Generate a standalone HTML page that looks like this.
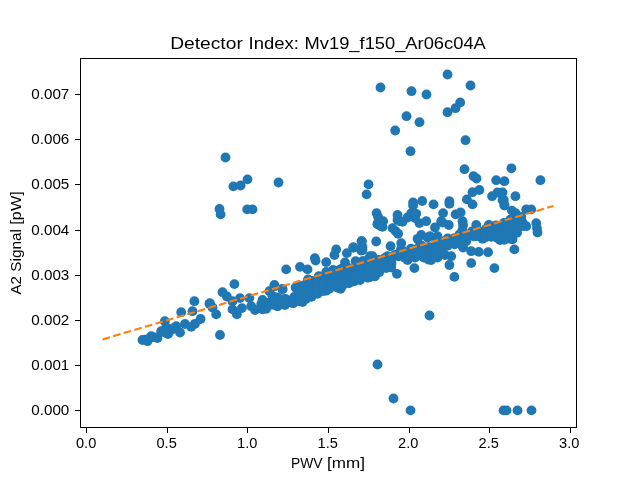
<!DOCTYPE html>
<html><head><meta charset="utf-8"><title>Detector Index</title>
<style>html,body{margin:0;padding:0;background:#fff;overflow:hidden}svg{display:block;will-change:transform}text{filter:grayscale(1);font-family:"Liberation Sans",sans-serif;fill:#000}</style></head>
<body>
<svg width="640" height="480" viewBox="0 0 640 480">
<rect width="640" height="480" fill="#ffffff"/>
<g fill="#1f77b4">
<circle cx="225.5" cy="157.5" r="4.9"/>
<circle cx="380.5" cy="87.5" r="4.9"/>
<circle cx="395.2" cy="130.5" r="4.9"/>
<circle cx="447.5" cy="74.5" r="4.9"/>
<circle cx="470.5" cy="85.5" r="4.9"/>
<circle cx="411.5" cy="91.2" r="4.9"/>
<circle cx="426.5" cy="94.5" r="4.9"/>
<circle cx="460.2" cy="102.5" r="4.9"/>
<circle cx="455.5" cy="108.2" r="4.9"/>
<circle cx="447.5" cy="112.2" r="4.9"/>
<circle cx="406.5" cy="116.2" r="4.9"/>
<circle cx="419.5" cy="122.2" r="4.9"/>
<circle cx="465.5" cy="140.2" r="4.9"/>
<circle cx="410.5" cy="151.2" r="4.9"/>
<circle cx="464.5" cy="169.2" r="4.9"/>
<circle cx="511.4" cy="168.3" r="4.9"/>
<circle cx="473.5" cy="176.2" r="4.9"/>
<circle cx="476.5" cy="178.5" r="4.9"/>
<circle cx="496.2" cy="180.2" r="4.9"/>
<circle cx="504.4" cy="181.2" r="4.9"/>
<circle cx="540.4" cy="180.2" r="4.9"/>
<circle cx="233.4" cy="186.4" r="4.9"/>
<circle cx="240.6" cy="185.5" r="4.9"/>
<circle cx="247.5" cy="179.4" r="4.9"/>
<circle cx="278.5" cy="182.5" r="4.9"/>
<circle cx="247.2" cy="209.4" r="4.9"/>
<circle cx="252.5" cy="209.4" r="4.9"/>
<circle cx="219.5" cy="209.0" r="4.9"/>
<circle cx="220.6" cy="214.4" r="4.9"/>
<circle cx="429.5" cy="315.5" r="4.9"/>
<circle cx="377.5" cy="364.5" r="4.9"/>
<circle cx="393.5" cy="398.5" r="4.9"/>
<circle cx="410.5" cy="410.4" r="4.9"/>
<circle cx="503.5" cy="410.4" r="4.9"/>
<circle cx="506.5" cy="410.4" r="4.9"/>
<circle cx="517.5" cy="410.4" r="4.9"/>
<circle cx="531.5" cy="410.4" r="4.9"/>
<circle cx="220.0" cy="335.0" r="4.9"/>
<circle cx="194.4" cy="301.2" r="4.9"/>
<circle cx="181.2" cy="312.2" r="4.9"/>
<circle cx="192.5" cy="311.2" r="4.9"/>
<circle cx="209.4" cy="303.8" r="4.9"/>
<circle cx="200.6" cy="319.0" r="4.9"/>
<circle cx="164.8" cy="321.2" r="4.9"/>
<circle cx="195.0" cy="323.8" r="4.9"/>
<circle cx="191.2" cy="326.9" r="4.9"/>
<circle cx="185.0" cy="324.0" r="4.9"/>
<circle cx="176.2" cy="326.2" r="4.9"/>
<circle cx="180.0" cy="332.5" r="4.9"/>
<circle cx="171.2" cy="330.0" r="4.9"/>
<circle cx="165.0" cy="332.5" r="4.9"/>
<circle cx="161.2" cy="331.2" r="4.9"/>
<circle cx="157.5" cy="338.1" r="4.9"/>
<circle cx="151.2" cy="336.2" r="4.9"/>
<circle cx="147.5" cy="341.2" r="4.9"/>
<circle cx="142.5" cy="340.0" r="4.9"/>
<circle cx="166.2" cy="327.5" r="4.9"/>
<circle cx="212.5" cy="307.5" r="4.9"/>
<circle cx="395.8" cy="231.4" r="4.9"/>
<circle cx="145.0" cy="339.6" r="4.9"/>
<circle cx="149.6" cy="338.2" r="4.9"/>
<circle cx="168.0" cy="334.0" r="4.9"/>
<circle cx="155.0" cy="337.3" r="4.9"/>
<circle cx="173.0" cy="328.5" r="4.9"/>
<circle cx="286.2" cy="269.4" r="4.9"/>
<circle cx="234.4" cy="284.1" r="4.9"/>
<circle cx="222.5" cy="292.2" r="4.9"/>
<circle cx="226.9" cy="296.5" r="4.9"/>
<circle cx="274.4" cy="286.2" r="4.9"/>
<circle cx="282.5" cy="289.4" r="4.9"/>
<circle cx="269.4" cy="291.2" r="4.9"/>
<circle cx="240.0" cy="298.1" r="4.9"/>
<circle cx="249.4" cy="298.1" r="4.9"/>
<circle cx="232.5" cy="301.2" r="4.9"/>
<circle cx="210.0" cy="303.1" r="4.9"/>
<circle cx="216.2" cy="314.4" r="4.9"/>
<circle cx="232.5" cy="309.4" r="4.9"/>
<circle cx="241.9" cy="308.1" r="4.9"/>
<circle cx="236.9" cy="314.4" r="4.9"/>
<circle cx="251.2" cy="306.2" r="4.9"/>
<circle cx="255.0" cy="310.0" r="4.9"/>
<circle cx="262.5" cy="300.0" r="4.9"/>
<circle cx="262.5" cy="309.4" r="4.9"/>
<circle cx="266.2" cy="308.8" r="4.9"/>
<circle cx="270.0" cy="302.5" r="4.9"/>
<circle cx="277.5" cy="297.5" r="4.9"/>
<circle cx="277.5" cy="306.2" r="4.9"/>
<circle cx="285.0" cy="298.8" r="4.9"/>
<circle cx="285.0" cy="305.0" r="4.9"/>
<circle cx="288.8" cy="301.2" r="4.9"/>
<circle cx="272.5" cy="296.2" r="4.9"/>
<circle cx="280.0" cy="302.5" r="4.9"/>
<circle cx="300.0" cy="266.9" r="4.9"/>
<circle cx="307.5" cy="269.4" r="4.9"/>
<circle cx="314.8" cy="258.1" r="4.9"/>
<circle cx="315.6" cy="260.6" r="4.9"/>
<circle cx="326.2" cy="262.2" r="4.9"/>
<circle cx="336.2" cy="249.4" r="4.9"/>
<circle cx="334.4" cy="255.0" r="4.9"/>
<circle cx="333.1" cy="270.0" r="4.9"/>
<circle cx="326.2" cy="271.9" r="4.9"/>
<circle cx="345.0" cy="262.5" r="4.9"/>
<circle cx="346.9" cy="253.1" r="4.9"/>
<circle cx="353.8" cy="247.5" r="4.9"/>
<circle cx="361.9" cy="241.2" r="4.9"/>
<circle cx="362.5" cy="250.0" r="4.9"/>
<circle cx="355.6" cy="261.2" r="4.9"/>
<circle cx="363.8" cy="261.2" r="4.9"/>
<circle cx="370.0" cy="256.2" r="4.9"/>
<circle cx="341.2" cy="268.8" r="4.9"/>
<circle cx="318.8" cy="276.9" r="4.9"/>
<circle cx="308.1" cy="280.0" r="4.9"/>
<circle cx="296.2" cy="288.1" r="4.9"/>
<circle cx="274.4" cy="285.0" r="4.9"/>
<circle cx="282.5" cy="288.8" r="4.9"/>
<circle cx="295.6" cy="287.5" r="4.9"/>
<circle cx="308.1" cy="279.4" r="4.9"/>
<circle cx="318.8" cy="276.2" r="4.9"/>
<circle cx="368.5" cy="184.4" r="4.9"/>
<circle cx="366.6" cy="194.4" r="4.9"/>
<circle cx="376.6" cy="213.1" r="4.9"/>
<circle cx="378.1" cy="216.9" r="4.9"/>
<circle cx="383.1" cy="221.2" r="4.9"/>
<circle cx="377.5" cy="224.4" r="4.9"/>
<circle cx="381.2" cy="226.2" r="4.9"/>
<circle cx="392.5" cy="228.1" r="4.9"/>
<circle cx="397.5" cy="215.0" r="4.9"/>
<circle cx="397.5" cy="220.0" r="4.9"/>
<circle cx="402.5" cy="221.9" r="4.9"/>
<circle cx="407.5" cy="217.5" r="4.9"/>
<circle cx="411.2" cy="213.1" r="4.9"/>
<circle cx="416.2" cy="213.8" r="4.9"/>
<circle cx="413.1" cy="202.5" r="4.9"/>
<circle cx="413.1" cy="205.6" r="4.9"/>
<circle cx="422.2" cy="201.0" r="4.9"/>
<circle cx="433.5" cy="204.4" r="4.9"/>
<circle cx="419.4" cy="223.1" r="4.9"/>
<circle cx="426.2" cy="221.2" r="4.9"/>
<circle cx="415.0" cy="218.1" r="4.9"/>
<circle cx="472.5" cy="192.2" r="4.9"/>
<circle cx="479.4" cy="190.0" r="4.9"/>
<circle cx="466.9" cy="199.4" r="4.9"/>
<circle cx="472.5" cy="204.4" r="4.9"/>
<circle cx="449.4" cy="201.2" r="4.9"/>
<circle cx="449.4" cy="203.8" r="4.9"/>
<circle cx="443.1" cy="213.1" r="4.9"/>
<circle cx="455.6" cy="214.4" r="4.9"/>
<circle cx="460.6" cy="212.5" r="4.9"/>
<circle cx="497.5" cy="192.5" r="4.9"/>
<circle cx="502.5" cy="192.5" r="4.9"/>
<circle cx="492.1" cy="196.2" r="4.9"/>
<circle cx="502.5" cy="200.0" r="4.9"/>
<circle cx="504.4" cy="205.0" r="4.9"/>
<circle cx="462.5" cy="221.2" r="4.9"/>
<circle cx="463.1" cy="225.0" r="4.9"/>
<circle cx="441.2" cy="221.2" r="4.9"/>
<circle cx="448.8" cy="225.0" r="4.9"/>
<circle cx="476.2" cy="225.0" r="4.9"/>
<circle cx="488.8" cy="225.0" r="4.9"/>
<circle cx="515.4" cy="196.2" r="4.9"/>
<circle cx="503.8" cy="200.0" r="4.9"/>
<circle cx="504.4" cy="205.6" r="4.9"/>
<circle cx="511.9" cy="210.6" r="4.9"/>
<circle cx="515.6" cy="213.1" r="4.9"/>
<circle cx="526.2" cy="209.4" r="4.9"/>
<circle cx="531.2" cy="209.4" r="4.9"/>
<circle cx="536.2" cy="223.1" r="4.9"/>
<circle cx="536.9" cy="228.1" r="4.9"/>
<circle cx="537.5" cy="232.5" r="4.9"/>
<circle cx="516.2" cy="220.0" r="4.9"/>
<circle cx="522.5" cy="222.5" r="4.9"/>
<circle cx="526.2" cy="226.2" r="4.9"/>
<circle cx="506.2" cy="225.6" r="4.9"/>
<circle cx="512.5" cy="225.0" r="4.9"/>
<circle cx="518.8" cy="226.2" r="4.9"/>
<circle cx="377.5" cy="223.8" r="4.9"/>
<circle cx="382.5" cy="226.9" r="4.9"/>
<circle cx="398.1" cy="233.8" r="4.9"/>
<circle cx="400.0" cy="221.2" r="4.9"/>
<circle cx="361.5" cy="241.2" r="4.9"/>
<circle cx="362.5" cy="246.9" r="4.9"/>
<circle cx="361.2" cy="250.6" r="4.9"/>
<circle cx="353.1" cy="247.5" r="4.9"/>
<circle cx="376.2" cy="241.5" r="4.9"/>
<circle cx="390.6" cy="246.2" r="4.9"/>
<circle cx="401.2" cy="243.1" r="4.9"/>
<circle cx="401.2" cy="248.8" r="4.9"/>
<circle cx="372.5" cy="256.2" r="4.9"/>
<circle cx="421.2" cy="235.0" r="4.9"/>
<circle cx="417.5" cy="238.8" r="4.9"/>
<circle cx="427.5" cy="237.5" r="4.9"/>
<circle cx="412.5" cy="250.0" r="4.9"/>
<circle cx="420.0" cy="245.0" r="4.9"/>
<circle cx="427.5" cy="247.5" r="4.9"/>
<circle cx="387.5" cy="256.2" r="4.9"/>
<circle cx="395.0" cy="255.0" r="4.9"/>
<circle cx="405.0" cy="255.0" r="4.9"/>
<circle cx="415.0" cy="257.5" r="4.9"/>
<circle cx="423.8" cy="257.5" r="4.9"/>
<circle cx="414.4" cy="268.1" r="4.9"/>
<circle cx="396.9" cy="273.8" r="4.9"/>
<circle cx="391.2" cy="267.5" r="4.9"/>
<circle cx="385.0" cy="262.5" r="4.9"/>
<circle cx="377.5" cy="270.0" r="4.9"/>
<circle cx="375.0" cy="276.2" r="4.9"/>
<circle cx="362.5" cy="270.0" r="4.9"/>
<circle cx="356.2" cy="262.5" r="4.9"/>
<circle cx="362.5" cy="261.2" r="4.9"/>
<circle cx="355.0" cy="272.5" r="4.9"/>
<circle cx="366.2" cy="276.2" r="4.9"/>
<circle cx="407.5" cy="260.0" r="4.9"/>
<circle cx="449.4" cy="265.0" r="4.9"/>
<circle cx="454.4" cy="276.9" r="4.9"/>
<circle cx="471.2" cy="263.1" r="4.9"/>
<circle cx="494.4" cy="268.1" r="4.9"/>
<circle cx="488.1" cy="252.2" r="4.9"/>
<circle cx="478.8" cy="251.9" r="4.9"/>
<circle cx="471.2" cy="251.2" r="4.9"/>
<circle cx="463.1" cy="247.5" r="4.9"/>
<circle cx="451.2" cy="256.2" r="4.9"/>
<circle cx="445.0" cy="255.0" r="4.9"/>
<circle cx="437.5" cy="257.5" r="4.9"/>
<circle cx="431.2" cy="260.0" r="4.9"/>
<circle cx="500.0" cy="240.0" r="4.9"/>
<circle cx="506.2" cy="237.5" r="4.9"/>
<circle cx="492.5" cy="236.2" r="4.9"/>
<circle cx="482.5" cy="238.8" r="4.9"/>
<circle cx="476.2" cy="236.2" r="4.9"/>
<circle cx="466.2" cy="241.2" r="4.9"/>
<circle cx="458.8" cy="241.2" r="4.9"/>
<circle cx="450.0" cy="243.8" r="4.9"/>
<circle cx="441.2" cy="246.2" r="4.9"/>
<circle cx="433.8" cy="248.8" r="4.9"/>
<circle cx="437.5" cy="236.2" r="4.9"/>
<circle cx="435.0" cy="227.5" r="4.9"/>
<circle cx="442.5" cy="222.5" r="4.9"/>
<circle cx="462.5" cy="230.0" r="4.9"/>
<circle cx="500.0" cy="227.5" r="4.9"/>
<circle cx="507.5" cy="228.8" r="4.9"/>
<circle cx="485.0" cy="232.5" r="4.9"/>
<circle cx="497.5" cy="233.8" r="4.9"/>
<circle cx="505.0" cy="232.5" r="4.9"/>
<circle cx="430.0" cy="236.2" r="4.9"/>
<circle cx="514.4" cy="249.4" r="4.9"/>
<circle cx="521.2" cy="221.9" r="4.9"/>
<circle cx="517.5" cy="228.8" r="4.9"/>
<circle cx="508.8" cy="226.2" r="4.9"/>
<circle cx="501.2" cy="227.5" r="4.9"/>
<circle cx="493.8" cy="226.9" r="4.9"/>
<circle cx="512.5" cy="239.4" r="4.9"/>
<circle cx="497.5" cy="232.5" r="4.9"/>
<circle cx="508.8" cy="232.5" r="4.9"/>
<circle cx="262.0" cy="304.1" r="4.9"/>
<circle cx="270.0" cy="305.1" r="4.9"/>
<circle cx="277.5" cy="306.1" r="4.9"/>
<circle cx="292.5" cy="303.1" r="4.9"/>
<circle cx="302.5" cy="302.1" r="4.9"/>
<circle cx="317.5" cy="293.9" r="4.9"/>
<circle cx="326.0" cy="290.7" r="4.9"/>
<circle cx="340.6" cy="288.9" r="4.9"/>
<circle cx="350.0" cy="282.6" r="4.9"/>
<circle cx="360.0" cy="280.1" r="4.9"/>
<circle cx="370.0" cy="277.1" r="4.9"/>
<circle cx="261.2" cy="303.9" r="4.9"/>
<circle cx="268.0" cy="302.8" r="4.9"/>
<circle cx="269.2" cy="304.1" r="4.9"/>
<circle cx="274.4" cy="297.3" r="4.9"/>
<circle cx="273.9" cy="304.8" r="4.9"/>
<circle cx="281.1" cy="299.4" r="4.9"/>
<circle cx="280.4" cy="303.5" r="4.9"/>
<circle cx="286.2" cy="299.5" r="4.9"/>
<circle cx="286.2" cy="303.2" r="4.9"/>
<circle cx="294.2" cy="297.0" r="4.9"/>
<circle cx="293.2" cy="303.3" r="4.9"/>
<circle cx="298.4" cy="285.3" r="4.9"/>
<circle cx="300.3" cy="290.3" r="4.9"/>
<circle cx="299.3" cy="298.3" r="4.9"/>
<circle cx="299.5" cy="301.4" r="4.9"/>
<circle cx="304.6" cy="285.2" r="4.9"/>
<circle cx="305.0" cy="291.3" r="4.9"/>
<circle cx="305.0" cy="298.5" r="4.9"/>
<circle cx="305.9" cy="299.1" r="4.9"/>
<circle cx="311.8" cy="280.9" r="4.9"/>
<circle cx="311.5" cy="287.3" r="4.9"/>
<circle cx="312.0" cy="293.5" r="4.9"/>
<circle cx="311.5" cy="296.8" r="4.9"/>
<circle cx="317.6" cy="282.7" r="4.9"/>
<circle cx="316.9" cy="288.4" r="4.9"/>
<circle cx="317.6" cy="292.6" r="4.9"/>
<circle cx="324.4" cy="277.9" r="4.9"/>
<circle cx="323.8" cy="282.6" r="4.9"/>
<circle cx="323.2" cy="291.1" r="4.9"/>
<circle cx="330.3" cy="275.9" r="4.9"/>
<circle cx="331.5" cy="282.1" r="4.9"/>
<circle cx="329.3" cy="288.8" r="4.9"/>
<circle cx="336.7" cy="270.9" r="4.9"/>
<circle cx="337.7" cy="279.1" r="4.9"/>
<circle cx="337.4" cy="284.0" r="4.9"/>
<circle cx="337.1" cy="287.5" r="4.9"/>
<circle cx="342.1" cy="271.6" r="4.9"/>
<circle cx="343.3" cy="277.8" r="4.9"/>
<circle cx="341.6" cy="283.6" r="4.9"/>
<circle cx="342.2" cy="286.1" r="4.9"/>
<circle cx="347.9" cy="267.7" r="4.9"/>
<circle cx="348.7" cy="275.0" r="4.9"/>
<circle cx="349.6" cy="280.4" r="4.9"/>
<circle cx="348.7" cy="283.2" r="4.9"/>
<circle cx="356.1" cy="268.5" r="4.9"/>
<circle cx="355.8" cy="275.4" r="4.9"/>
<circle cx="354.1" cy="281.4" r="4.9"/>
<circle cx="360.6" cy="264.2" r="4.9"/>
<circle cx="362.0" cy="271.1" r="4.9"/>
<circle cx="360.2" cy="277.2" r="4.9"/>
<circle cx="360.3" cy="278.5" r="4.9"/>
<circle cx="368.3" cy="264.1" r="4.9"/>
<circle cx="367.7" cy="271.2" r="4.9"/>
<circle cx="368.0" cy="277.7" r="4.9"/>
<circle cx="372.2" cy="260.4" r="4.9"/>
<circle cx="373.5" cy="265.6" r="4.9"/>
<circle cx="373.7" cy="273.3" r="4.9"/>
<circle cx="374.3" cy="276.3" r="4.9"/>
<circle cx="378.8" cy="259.9" r="4.9"/>
<circle cx="380.2" cy="265.8" r="4.9"/>
<circle cx="379.2" cy="272.2" r="4.9"/>
<circle cx="385.1" cy="257.8" r="4.9"/>
<circle cx="387.0" cy="261.9" r="4.9"/>
<circle cx="386.1" cy="268.0" r="4.9"/>
<circle cx="393.5" cy="256.4" r="4.9"/>
<circle cx="391.5" cy="263.0" r="4.9"/>
<circle cx="399.5" cy="252.5" r="4.9"/>
<circle cx="398.3" cy="256.4" r="4.9"/>
<circle cx="405.6" cy="252.4" r="4.9"/>
<circle cx="404.9" cy="257.9" r="4.9"/>
<circle cx="410.9" cy="248.7" r="4.9"/>
<circle cx="409.5" cy="255.2" r="4.9"/>
<circle cx="411.4" cy="256.4" r="4.9"/>
<circle cx="415.6" cy="249.3" r="4.9"/>
<circle cx="416.1" cy="256.2" r="4.9"/>
<circle cx="421.9" cy="246.0" r="4.9"/>
<circle cx="423.8" cy="252.0" r="4.9"/>
<circle cx="422.5" cy="256.6" r="4.9"/>
<circle cx="429.7" cy="247.2" r="4.9"/>
<circle cx="430.8" cy="251.5" r="4.9"/>
<circle cx="428.4" cy="259.6" r="4.9"/>
<circle cx="436.8" cy="242.2" r="4.9"/>
<circle cx="436.4" cy="249.5" r="4.9"/>
<circle cx="435.9" cy="255.7" r="4.9"/>
<circle cx="434.6" cy="256.8" r="4.9"/>
<circle cx="441.2" cy="241.3" r="4.9"/>
<circle cx="442.9" cy="247.2" r="4.9"/>
<circle cx="442.1" cy="251.7" r="4.9"/>
<circle cx="447.6" cy="238.4" r="4.9"/>
<circle cx="447.4" cy="245.9" r="4.9"/>
<circle cx="454.3" cy="238.1" r="4.9"/>
<circle cx="454.7" cy="244.4" r="4.9"/>
<circle cx="459.5" cy="234.5" r="4.9"/>
<circle cx="460.1" cy="240.3" r="4.9"/>
<circle cx="461.2" cy="244.5" r="4.9"/>
<circle cx="465.5" cy="234.6" r="4.9"/>
<circle cx="466.1" cy="236.6" r="4.9"/>
<circle cx="472.2" cy="231.3" r="4.9"/>
<circle cx="473.6" cy="236.4" r="4.9"/>
<circle cx="479.4" cy="231.6" r="4.9"/>
<circle cx="479.5" cy="235.6" r="4.9"/>
<circle cx="485.9" cy="228.9" r="4.9"/>
<circle cx="485.5" cy="233.2" r="4.9"/>
<circle cx="485.5" cy="237.3" r="4.9"/>
<circle cx="491.8" cy="226.6" r="4.9"/>
<circle cx="492.7" cy="235.1" r="4.9"/>
<circle cx="491.2" cy="236.9" r="4.9"/>
<circle cx="496.3" cy="225.3" r="4.9"/>
<circle cx="498.5" cy="230.5" r="4.9"/>
<circle cx="498.3" cy="235.5" r="4.9"/>
<circle cx="497.2" cy="237.8" r="4.9"/>
<circle cx="504.1" cy="222.8" r="4.9"/>
<circle cx="504.9" cy="230.1" r="4.9"/>
<circle cx="503.6" cy="235.3" r="4.9"/>
<circle cx="504.2" cy="239.8" r="4.9"/>
<circle cx="510.4" cy="219.5" r="4.9"/>
<circle cx="510.8" cy="225.5" r="4.9"/>
<circle cx="510.9" cy="232.9" r="4.9"/>
<circle cx="509.6" cy="238.7" r="4.9"/>
<circle cx="516.6" cy="219.6" r="4.9"/>
<circle cx="517.2" cy="226.3" r="4.9"/>
<circle cx="517.0" cy="232.8" r="4.9"/>
<circle cx="521.3" cy="217.0" r="4.9"/>
<circle cx="521.9" cy="223.5" r="4.9"/>
<circle cx="522.5" cy="226.1" r="4.9"/>
</g>
<line x1="102.54" y1="339.38" x2="553.46" y2="205.91" stroke="#ff7f0e" stroke-width="2.08" stroke-dasharray="7.71 3.33"/>
<rect x="80.5" y="58.5" width="496.0" height="369.0" fill="none" stroke="#000" stroke-width="1" shape-rendering="crispEdges"/>
<g stroke="#000" stroke-width="1" shape-rendering="crispEdges">
<line x1="86.5" y1="427.5" x2="86.5" y2="432.8"/>
<line x1="167.5" y1="427.5" x2="167.5" y2="432.8"/>
<line x1="247.5" y1="427.5" x2="247.5" y2="432.8"/>
<line x1="328.5" y1="427.5" x2="328.5" y2="432.8"/>
<line x1="409.5" y1="427.5" x2="409.5" y2="432.8"/>
<line x1="489.5" y1="427.5" x2="489.5" y2="432.8"/>
<line x1="570.5" y1="427.5" x2="570.5" y2="432.8"/>
<line x1="80.5" y1="410.5" x2="75.2" y2="410.5"/>
<line x1="80.5" y1="365.5" x2="75.2" y2="365.5"/>
<line x1="80.5" y1="320.5" x2="75.2" y2="320.5"/>
<line x1="80.5" y1="275.5" x2="75.2" y2="275.5"/>
<line x1="80.5" y1="230.5" x2="75.2" y2="230.5"/>
<line x1="80.5" y1="184.5" x2="75.2" y2="184.5"/>
<line x1="80.5" y1="139.5" x2="75.2" y2="139.5"/>
<line x1="80.5" y1="94.5" x2="75.2" y2="94.5"/>
</g>
<g font-size="14.2">
<text x="86.14" y="448" text-anchor="middle" textLength="20.3" lengthAdjust="spacingAndGlyphs">0.0</text>
<text x="166.66" y="448" text-anchor="middle" textLength="20.3" lengthAdjust="spacingAndGlyphs">0.5</text>
<text x="247.18" y="448" text-anchor="middle" textLength="20.3" lengthAdjust="spacingAndGlyphs">1.0</text>
<text x="327.70" y="448" text-anchor="middle" textLength="20.3" lengthAdjust="spacingAndGlyphs">1.5</text>
<text x="408.22" y="448" text-anchor="middle" textLength="20.3" lengthAdjust="spacingAndGlyphs">2.0</text>
<text x="488.74" y="448" text-anchor="middle" textLength="20.3" lengthAdjust="spacingAndGlyphs">2.5</text>
<text x="569.26" y="448" text-anchor="middle" textLength="20.3" lengthAdjust="spacingAndGlyphs">3.0</text>
<text x="69.3" y="415" text-anchor="end" textLength="38" lengthAdjust="spacingAndGlyphs">0.000</text>
<text x="69.3" y="370" text-anchor="end" textLength="38" lengthAdjust="spacingAndGlyphs">0.001</text>
<text x="69.3" y="325" text-anchor="end" textLength="38" lengthAdjust="spacingAndGlyphs">0.002</text>
<text x="69.3" y="280" text-anchor="end" textLength="38" lengthAdjust="spacingAndGlyphs">0.003</text>
<text x="69.3" y="235" text-anchor="end" textLength="38" lengthAdjust="spacingAndGlyphs">0.004</text>
<text x="69.3" y="189" text-anchor="end" textLength="38" lengthAdjust="spacingAndGlyphs">0.005</text>
<text x="69.3" y="144" text-anchor="end" textLength="38" lengthAdjust="spacingAndGlyphs">0.006</text>
<text x="69.3" y="99" text-anchor="end" textLength="38" lengthAdjust="spacingAndGlyphs">0.007</text>
</g>
<g font-size="14.2"><text x="291.0" y="467.5" textLength="31.6" lengthAdjust="spacingAndGlyphs">PWV</text><text x="327.1" y="467.5" textLength="37.9" lengthAdjust="spacingAndGlyphs">[mm]</text></g>
<g font-size="14.2"><text transform="translate(20.7,294.5) rotate(-90)" textLength="18.3" lengthAdjust="spacingAndGlyphs">A2</text><text transform="translate(20.7,271.75) rotate(-90)" textLength="42.7" lengthAdjust="spacingAndGlyphs">Signal</text><text transform="translate(20.7,224.65) rotate(-90)" textLength="33.4" lengthAdjust="spacingAndGlyphs">[pW]</text></g>
<g font-size="17">
<text x="170.2" y="49" textLength="72.6" lengthAdjust="spacingAndGlyphs">Detector</text>
<text x="248.6" y="49" textLength="50.2" lengthAdjust="spacingAndGlyphs">Index:</text>
<text x="304.6" y="49" textLength="181.2" lengthAdjust="spacingAndGlyphs">Mv19_f150_Ar06c04A</text>
</g>
</svg></body></html>
